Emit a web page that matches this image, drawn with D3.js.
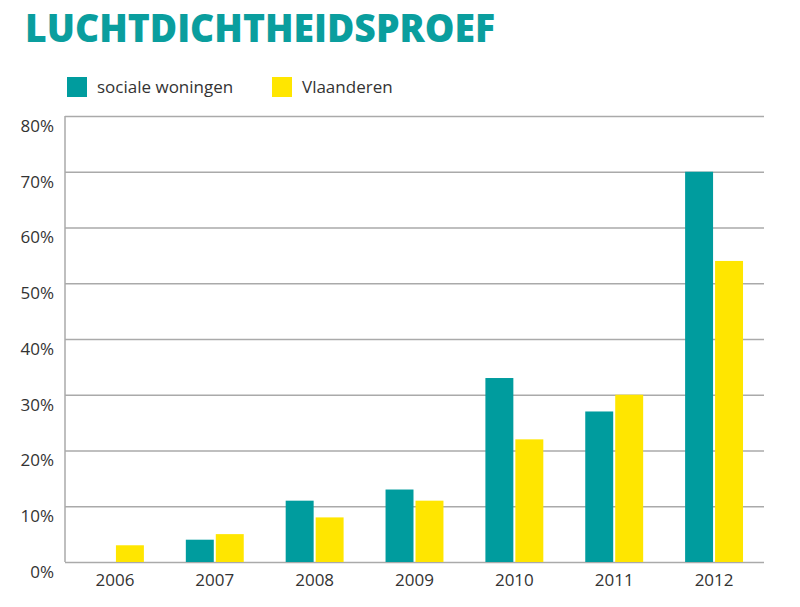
<!DOCTYPE html>
<html><head><meta charset="utf-8">
<script src="https://cdn.jsdelivr.net/npm/d3@7"></script>
<style>body{margin:0;background:#fff;} svg{display:block;}</style>
</head><body>
<svg id="chart" width="800" height="607"></svg>
<script>
const years = ["2006","2007","2008","2009","2010","2011","2012"];
const seriesNames = ["sociale woningen","Vlaanderen"];
const socialeWoningen = [0, 4, 11, 13, 33, 27, 70];
const vlaanderen = [3, 5, 8, 11, 22, 30, 54];
const yTicks = [0,10,20,30,40,50,60,70,80];
const colors = ["#009c9e", "#ffe600"];

const svg = d3.select("#chart");
const margin = {left:65, right:36, top:116, bottom:45};
const W = 800, H = 607;
const FONT = "'Open Sans', sans-serif";

const x0 = d3.scaleBand().domain(years).range([margin.left, W - margin.right]).paddingInner(0.42).paddingOuter(0.21);
const x1 = d3.scaleBand().domain(seriesNames).range([0, x0.bandwidth()]).paddingInner(0.067);
const y = d3.scaleLinear().domain([0,80]).range([H - margin.bottom, margin.top]);

// title
svg.append("text").attr("x",25).attr("y",42)
  .attr("font-family",FONT).attr("font-weight",800)
  .attr("font-size",38).attr("fill","#0a9e9e")
  .attr("textLength",470).attr("lengthAdjust","spacingAndGlyphs")
  .text("LUCHTDICHTHEIDSPROEF");

// legend
const leg = svg.append("g");
const legX = [67, 272];
seriesNames.forEach((n,i)=>{
  leg.append("rect").attr("x",legX[i]).attr("y",77).attr("width",20).attr("height",20).attr("fill",colors[i]);
  leg.append("text").attr("x",legX[i]+30).attr("y",93).attr("font-family",FONT)
    .attr("font-size",17).attr("fill","#333").text(n);
});

// gridlines
const yAxis = d3.axisLeft(y).tickValues(yTicks).tickSize(-(W - margin.left - margin.right)).tickFormat(d=>d+"%").tickPadding(11);
const gy = svg.append("g").attr("transform",`translate(${margin.left},0)`).call(yAxis);
gy.select(".domain").remove();
gy.selectAll(".tick line").attr("stroke","#aaa").attr("stroke-width",1.5);
gy.selectAll(".tick text").attr("font-family",FONT).attr("font-size",17).attr("fill","#333").attr("dy","0.9em");
svg.append("line").attr("x1",margin.left).attr("x2",margin.left).attr("y1",y(80)).attr("y2",y(0))
  .attr("stroke","#aaa").attr("stroke-width",1.5);

// bars
const data = years.map((yr,i)=>({year:yr, values:[socialeWoningen[i], vlaanderen[i]]}));
const groups = svg.append("g").selectAll("g").data(data).join("g")
  .attr("transform",d=>`translate(${x0(d.year)},0)`);
groups.selectAll("rect").data(d=>d.values.map((v,i)=>({name:seriesNames[i], v, i})))
  .join("rect")
  .attr("x",d=>x1(d.name)).attr("width",x1.bandwidth())
  .attr("y",d=>y(d.v)).attr("height",d=>y(0)-y(d.v))
  .attr("fill",d=>colors[d.i]);

// x axis labels
const xAxis = d3.axisBottom(x0).tickSize(0).tickPadding(12);
const gx = svg.append("g").attr("transform",`translate(0,${y(0)})`).call(xAxis);
gx.select(".domain").remove();
gx.selectAll(".tick text").attr("font-family",FONT).attr("font-size",17).attr("fill","#333");
</script>
</body></html>
